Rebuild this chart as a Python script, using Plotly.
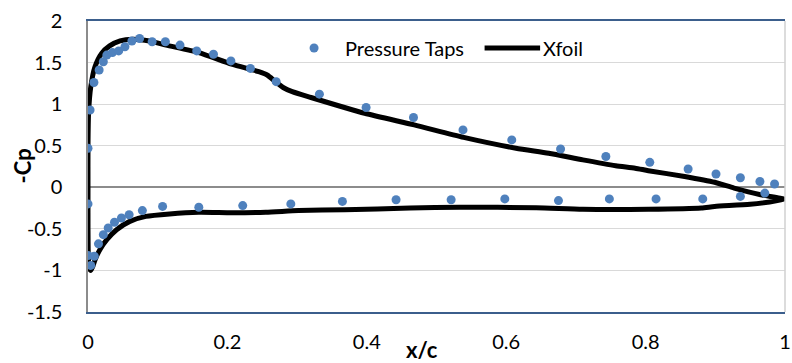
import plotly.graph_objects as go

# Pressure taps (x/c, -Cp)
taps_x = [0.0, 0.003, 0.0085, 0.016, 0.022, 0.027, 0.035, 0.044, 0.053, 0.063, 0.074,
          0.092, 0.111, 0.132, 0.156, 0.180, 0.205, 0.233, 0.270, 0.332, 0.399, 0.467,
          0.538, 0.608, 0.678, 0.743, 0.806, 0.861, 0.901, 0.936, 0.964, 0.985,
          0.0, 0.0, 0.004, 0.009, 0.015, 0.022, 0.029, 0.038, 0.048, 0.059, 0.078,
          0.107, 0.159, 0.222, 0.291, 0.365, 0.442, 0.521, 0.598, 0.675, 0.748, 0.815,
          0.882, 0.936, 0.971]
taps_cp = [0.47, 0.93, 1.26, 1.41, 1.51, 1.59, 1.62, 1.64, 1.69, 1.76, 1.79,
           1.75, 1.75, 1.71, 1.64, 1.60, 1.52, 1.43, 1.27, 1.12, 0.96, 0.84,
           0.69, 0.57, 0.46, 0.37, 0.30, 0.22, 0.16, 0.115, 0.07, 0.04,
           -0.20, -0.82, -0.94, -0.83, -0.68, -0.57, -0.49, -0.42, -0.37, -0.33, -0.28,
           -0.23, -0.24, -0.22, -0.20, -0.17, -0.15, -0.15, -0.14, -0.16, -0.14, -0.14,
           -0.14, -0.11, -0.07]

# Xfoil prediction: TE upper -> LE -> TE lower
xfoil_x = [1.0, 0.965, 0.927, 0.899, 0.856, 0.804, 0.785, 0.757, 0.710, 0.661, 0.614,
           0.539, 0.468, 0.397, 0.320, 0.293, 0.280, 0.269, 0.257, 0.245, 0.206, 0.159,
           0.112, 0.088, 0.064, 0.046, 0.031, 0.0195, 0.010, 0.004, 0.0008, 0.0, 0.0,
           0.0, 0.0005, 0.0015, 0.004, 0.007, 0.010, 0.017, 0.027, 0.041, 0.060, 0.083,
           0.117, 0.159, 0.206, 0.255, 0.302, 0.368, 0.462, 0.533, 0.643, 0.710, 0.804,
           0.880, 0.899, 0.950, 1.0]
xfoil_cp = [-0.145, -0.09, -0.01, 0.06, 0.13, 0.20, 0.23, 0.26, 0.33, 0.41, 0.47,
            0.60, 0.75, 0.89, 1.08, 1.15, 1.20, 1.27, 1.35, 1.39, 1.48, 1.62,
            1.71, 1.76, 1.78, 1.76, 1.70, 1.61, 1.45, 1.21, 0.89, 0.5, 0.0,
            -0.5, -0.85, -0.97, -1.0, -0.95, -0.875, -0.75, -0.63, -0.51, -0.41, -0.35,
            -0.32, -0.30, -0.305, -0.30, -0.28, -0.27, -0.25, -0.24, -0.245, -0.265, -0.265,
            -0.25, -0.23, -0.205, -0.145]

x_ticks = [0, 0.2, 0.4, 0.6, 0.8, 1.0]
x_labels = ["0", "0.2", "0.4", "0.6", "0.8", "1"]
y_ticks = [2, 1.5, 1, 0.5, 0, -0.5, -1, -1.5]
y_labels = ["2", "1.5", "1", "0.5", "0", "-0.5", "-1", "-1.5"]

FONT = "Lato"
W, H = 792, 363
L, R, T, B = 88, 1, 21, 51
pw, ph = W - L - R, H - T - B

def px_x(p):
    return (p - L) / pw

def px_y(p):
    return (H - B - p) / ph

fig = go.Figure()
fig.add_trace(go.Scatter(x=xfoil_x, y=xfoil_cp, mode="lines", name="Xfoil",
                         line=dict(color="black", width=5, shape="spline", smoothing=0.6),
                         showlegend=False))
fig.add_trace(go.Scatter(x=taps_x, y=taps_cp, mode="markers", name="Pressure Taps",
                         marker=dict(color="#4F81BD", size=9),
                         showlegend=False))

fig.update_layout(
    width=W, height=H,
    margin=dict(l=L, r=R, t=T, b=B),
    paper_bgcolor="white", plot_bgcolor="white",
    font=dict(family=FONT, size=20, color="black"),
    xaxis=dict(range=[0, 1], tickvals=x_ticks, ticktext=x_labels,
               showgrid=False, zeroline=False, showline=True, linecolor="#3B5E8C",
               linewidth=1.5, mirror=True, ticks="", ticklabelstandoff=11,
               ticklabeloverflow="allow",
               tickfont=dict(family=FONT, size=20, color="black")),
    yaxis=dict(range=[-1.5, 2], tickvals=y_ticks, ticktext=y_labels,
               showgrid=True, gridcolor="#D9D9D9", gridwidth=1,
               zeroline=True, zerolinecolor="#8C8C8C", zerolinewidth=1.5,
               showline=True, linecolor="#8C8C8C", linewidth=1.5, ticks="",
               ticklabelstandoff=20,
               tickfont=dict(family=FONT, size=20, color="black")),
    showlegend=False,
)

# right border
fig.add_shape(type="line", xref="paper", yref="paper", x0=1, x1=1, y0=0, y1=1,
              line=dict(color="#D0D0D0", width=1.5))

# axis titles
fig.add_annotation(text="<b>x/c</b>", xref="paper", yref="paper", x=px_x(425), y=px_y(349),
                   showarrow=False, xanchor="center", yanchor="middle",
                   font=dict(family=FONT, size=22, color="black"))
fig.add_annotation(text="<b>-Cp</b>", xref="paper", yref="paper", x=px_x(21), y=px_y(166),
                   showarrow=False, xanchor="center", yanchor="middle", textangle=-90,
                   font=dict(family=FONT, size=22, color="black"))

# manual legend
fig.add_shape(type="circle", xref="paper", yref="paper", xsizemode="pixel", ysizemode="pixel",
              xanchor=px_x(316), yanchor=px_y(48), x0=-4.5, x1=4.5, y0=-4.5, y1=4.5,
              fillcolor="#4F81BD", line=dict(color="#4F81BD", width=0))
fig.add_annotation(text="Pressure Taps", xref="paper", yref="paper", x=px_x(345), y=px_y(48),
                   showarrow=False, xanchor="left", yanchor="middle",
                   font=dict(family=FONT, size=20, color="black"))
fig.add_shape(type="line", xref="paper", yref="paper", x0=px_x(488), x1=px_x(544),
              y0=px_y(48), y1=px_y(48), line=dict(color="black", width=5))
fig.add_annotation(text="Xfoil", xref="paper", yref="paper", x=px_x(545), y=px_y(48),
                   showarrow=False, xanchor="left", yanchor="middle",
                   font=dict(family=FONT, size=20, color="black"))

fig.write_html("out.html")
